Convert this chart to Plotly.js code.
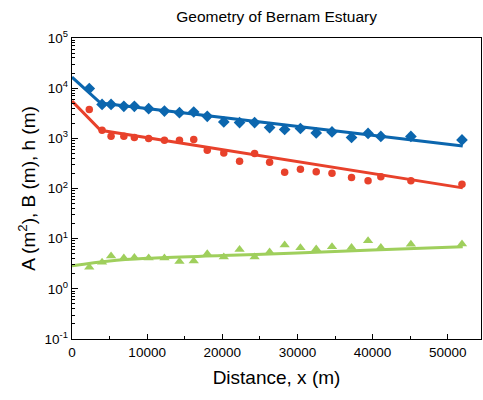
<!DOCTYPE html>
<html>
<head>
<meta charset="utf-8">
<script src="https://cdn.plot.ly/plotly-3.0.1.min.js"></script>
<style>html,body{margin:0;padding:0;background:#fff;}#chart{width:483px;height:400px;}</style>
</head>
<body>
<div id="chart"></div>
<script>
// Observation positions (m)
const obsX = [2300, 4000, 5200, 6900, 8300, 10200, 12300, 14300, 16200, 18000, 20200, 22300, 24300, 26300, 28300, 30400, 32500, 34600, 37200, 39400, 41100, 45100, 51900];
// Cross-sectional area A (m^2)
const areaA = [9800, 4750, 4750, 4350, 4350, 3900, 3500, 3250, 3350, 2750, 2120, 2060, 2060, 1640, 1500, 1570, 1280, 1340, 1040, 1250, 1090, 1090, 930];
// Width B (m)
const widthB = [3740, 1450, 1100, 1100, 1040, 990, 920, 920, 950, 580, 510, 350, 500, 335, 212, 243, 215, 202, 166, 142, 171, 142, 121];
// Depth h (m)
const depthH = [2.7, 3.4, 4.5, 4.1, 4.2, 4.1, 4.1, 3.5, 3.6, 5.0, 4.3, 6.1, 4.3, 5.4, 7.5, 6.6, 6.2, 6.9, 6.7, 9.1, 6.7, 7.7, 7.8];

// Fitted curves
const fitAX = [0, 3800, 52000];
const fitA = [16600, 5050, 705];
const fitBX = [0, 3800, 52000];
const fitB = [5540, 1450, 103];
const fitHX = [0, 5000, 10000, 20000, 30000, 40000, 52000];
const fitH = [2.87, 3.6, 4.05, 4.6, 5.2, 5.95, 6.93];

const yTickVals = [0.1, 1, 10, 100, 1000, 10000, 100000];
const yTickText = ['10<sup>-1</sup>', '10<sup>0</sup>', '10<sup>1</sup>', '10<sup>2</sup>', '10<sup>3</sup>', '10<sup>4</sup>', '10<sup>5</sup>'];
const xTickVals = [0, 10000, 20000, 30000, 40000, 50000];
const xTickText = ['0', '10000', '20000', '30000', '40000', '50000'];

const BLUE = '#0b66ae', RED = '#e8412b', GREEN = '#9fcf5c';

const traces = [
  {x: fitAX, y: fitA, mode: 'lines', line: {color: BLUE, width: 3}, hoverinfo: 'skip'},
  {x: fitBX, y: fitB, mode: 'lines', line: {color: RED, width: 3}, hoverinfo: 'skip'},
  {x: fitHX, y: fitH, mode: 'lines', line: {color: GREEN, width: 3, shape: 'spline'}, hoverinfo: 'skip'},
  {x: obsX, y: areaA, mode: 'markers', marker: {symbol: 'diamond', size: 9, color: BLUE}},
  {x: obsX, y: widthB, mode: 'markers', marker: {symbol: 'circle', size: 7.5, color: RED}},
  {x: obsX, y: depthH, mode: 'markers', marker: {symbol: 'triangle-up', size: 9, color: GREEN}}
];

const layout = {
  width: 483, height: 400,
  margin: {l: 72, r: 2, t: 38, b: 60.5},
  paper_bgcolor: '#fff', plot_bgcolor: '#fff',
  showlegend: false,
  font: {family: 'Liberation Sans, Arial, sans-serif', color: '#000'},
  title: {text: 'Geometry of Bernam Estuary', font: {size: 15.5, color: '#000'}, x: 0.5727, xanchor: 'center', y: 0.958, yanchor: 'middle'},
  xaxis: {
    range: [0, 54430], showgrid: false, zeroline: false,
    showline: true, linecolor: '#000', linewidth: 1.3, mirror: true,
    ticks: 'inside', ticklen: 5, tickwidth: 1, tickcolor: '#000',
    tickmode: 'array', tickvals: xTickVals, ticktext: xTickText,
    tickfont: {size: 13.5},
    minor: {ticks: 'inside', ticklen: 3, tickwidth: 1, tickcolor: '#000', tickmode: 'array', tickvals: [5000, 15000, 25000, 35000, 45000]},
    title: {text: 'Distance, x (m)', font: {size: 19}, standoff: 12},
    automargin: false
  },
  yaxis: {
    type: 'log', range: [-1, 5], showgrid: false, zeroline: false,
    showline: true, linecolor: '#000', linewidth: 1.3, mirror: true,
    ticks: 'inside', ticklen: 6, tickwidth: 1, tickcolor: '#000',
    tickmode: 'array', tickvals: yTickVals, ticktext: yTickText,
    tickfont: {size: 13.5},
    minor: {ticks: 'inside', ticklen: 3, tickwidth: 1, tickcolor: '#000', dtick: 'D1'},
    title: {text: 'A (m<sup>2</sup>), B (m), h (m)', font: {size: 19}, standoff: 4},
    automargin: false
  }
};

Plotly.newPlot('chart', traces, layout, {displayModeBar: false, staticPlot: true});
</script>
</body>
</html>
